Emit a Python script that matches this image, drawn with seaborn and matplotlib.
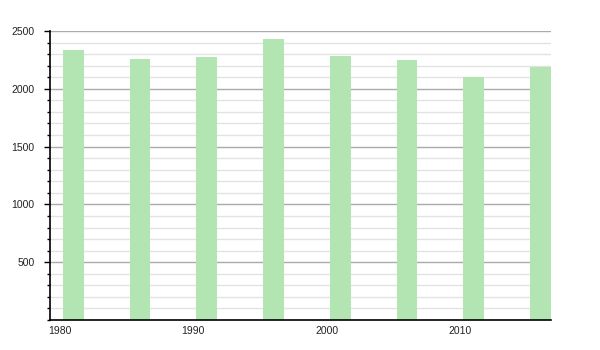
import matplotlib
matplotlib.use("Agg")
import matplotlib.pyplot as plt
from matplotlib.ticker import MultipleLocator, FixedLocator
import seaborn as sns
import pandas as pd

years = [1981, 1986, 1991, 1996, 2001, 2006, 2011, 2016]
population = [2334, 2260, 2271, 2428, 2280, 2252, 2105, 2191]
x_ticks = [1980, 1990, 2000, 2010]
y_ticks = [500, 1000, 1500, 2000, 2500]

df = pd.DataFrame({"year": years, "population": population})

sns.set_theme(style="white")
plt.rcParams["font.family"] = ["Liberation Sans", "DejaVu Sans"]

fig = plt.figure(figsize=(6, 3.5), dpi=100)
ax = fig.add_axes([50/600, 1-320/350, 501/600, 289/350])

sns.barplot(data=df, x="year", y="population", native_scale=True, width=0.31,
            color="#b2e5b2", saturation=1, edgecolor="none", linewidth=0, ax=ax)

ax.set_xlim(1979.26, 2016.79)
ax.set_ylim(0, 2500)
ax.set_axisbelow(True)

ax.yaxis.set_major_locator(FixedLocator(y_ticks))
ax.yaxis.set_minor_locator(MultipleLocator(100))
ax.xaxis.set_major_locator(FixedLocator(x_ticks))
ax.set_xticklabels([str(t) for t in x_ticks])
ax.set_yticklabels([str(t) for t in y_ticks])

ax.grid(which="minor", axis="y", color="#e2e2e2", linewidth=1)
ax.grid(which="major", axis="y", color="#ababab", linewidth=1)
ax.grid(which="major", axis="x", visible=False)

for s in ["top", "right"]:
    ax.spines[s].set_visible(False)
for s in ["left", "bottom"]:
    ax.spines[s].set_visible(True)
    ax.spines[s].set_color("black")
    ax.spines[s].set_linewidth(1.2)

ax.tick_params(axis="y", which="major", left=True, length=4, width=1, color="black",
               labelsize=7.5, labelcolor="#222222", pad=7)
ax.tick_params(axis="y", which="minor", left=True, length=2, width=1, color="black")
ax.tick_params(axis="x", which="both", bottom=False, length=0, labelsize=7.5,
               labelcolor="#222222", pad=4)

ax.set_xlabel("")
ax.set_ylabel("")

fig.savefig("out.png", dpi=100, facecolor="white")
